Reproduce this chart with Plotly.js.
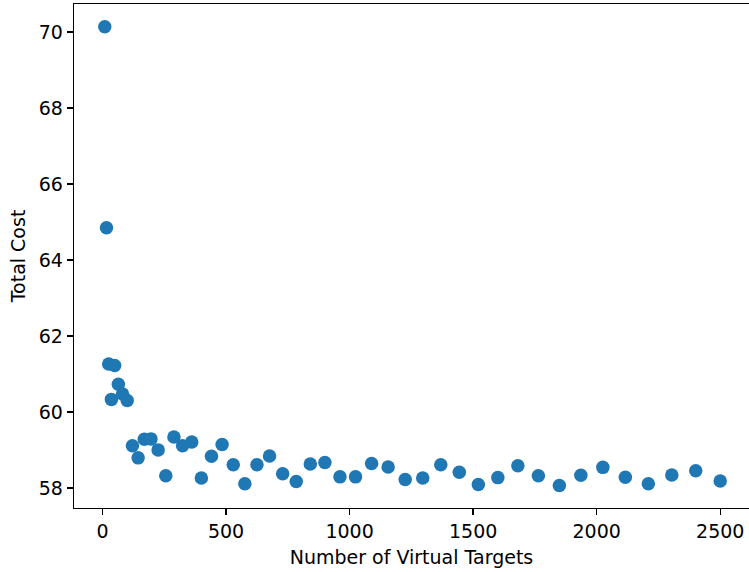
<!DOCTYPE html>
<html>
<head>
<meta charset="utf-8">
<script src="https://cdn.plot.ly/plotly-3.0.1.min.js"></script>
<style>html,body{margin:0;padding:0;background:#fff;}#chart{width:749px;height:572px;}</style>
</head>
<body>
<div id="chart"></div>
<script>
const virtualTargets = [9,16,25,36,49,64,81,100,121,144,169,196,225,256,289,324,361,400,441,484,529,576,625,676,729,784,841,900,961,1024,1089,1156,1225,1296,1369,1444,1521,1600,1681,1764,1849,1936,2025,2116,2209,2304,2401,2500];
const totalCost = [70.14,64.85,61.26,60.33,61.22,60.73,60.47,60.30,59.11,58.79,59.28,59.29,59.00,58.32,59.34,59.11,59.21,58.26,58.83,59.14,58.61,58.11,58.61,58.84,58.37,58.17,58.63,58.67,58.29,58.29,58.64,58.55,58.22,58.26,58.61,58.41,58.09,58.27,58.58,58.32,58.06,58.33,58.54,58.28,58.11,58.34,58.45,58.18];
const xTicks = [0,500,1000,1500,2000,2500];
const yTicks = [58,60,62,64,66,68,70];

const font = {family: 'DejaVu Sans, sans-serif', size: 19, color: '#000'};
Plotly.newPlot('chart', [{
  x: virtualTargets, y: totalCost, type: 'scatter', mode: 'markers',
  marker: {color: '#1f77b4', size: 13.5, line: {width: 0}}
}], {
  width: 749, height: 572,
  margin: {l: 74, r: 0, t: 4, b: 64},
  paper_bgcolor: '#fff', plot_bgcolor: '#fff',
  font: font,
  showlegend: false,
  xaxis: {
    range: [-115.5, 2616.5], tickvals: xTicks, ticktext: xTicks.map(String),
    showgrid: false, zeroline: false, showline: true, linecolor: '#000', linewidth: 1.3,
    mirror: true, ticks: 'outside', ticklen: 6, tickwidth: 1.3, tickcolor: '#000',
    tickfont: font,
    title: {text: 'Number of Virtual Targets', font: font, standoff: 9}
  },
  yaxis: {
    range: [57.47, 70.74], tickvals: yTicks, ticktext: yTicks.map(String),
    showgrid: false, zeroline: false, showline: true, linecolor: '#000', linewidth: 1.3,
    mirror: false, ticks: 'outside', ticklen: 6, tickwidth: 1.3, tickcolor: '#000',
    tickfont: font,
    title: {text: 'Total Cost', font: font, standoff: 8}
  }
}, {staticPlot: true, displayModeBar: false});
</script>
</body>
</html>
